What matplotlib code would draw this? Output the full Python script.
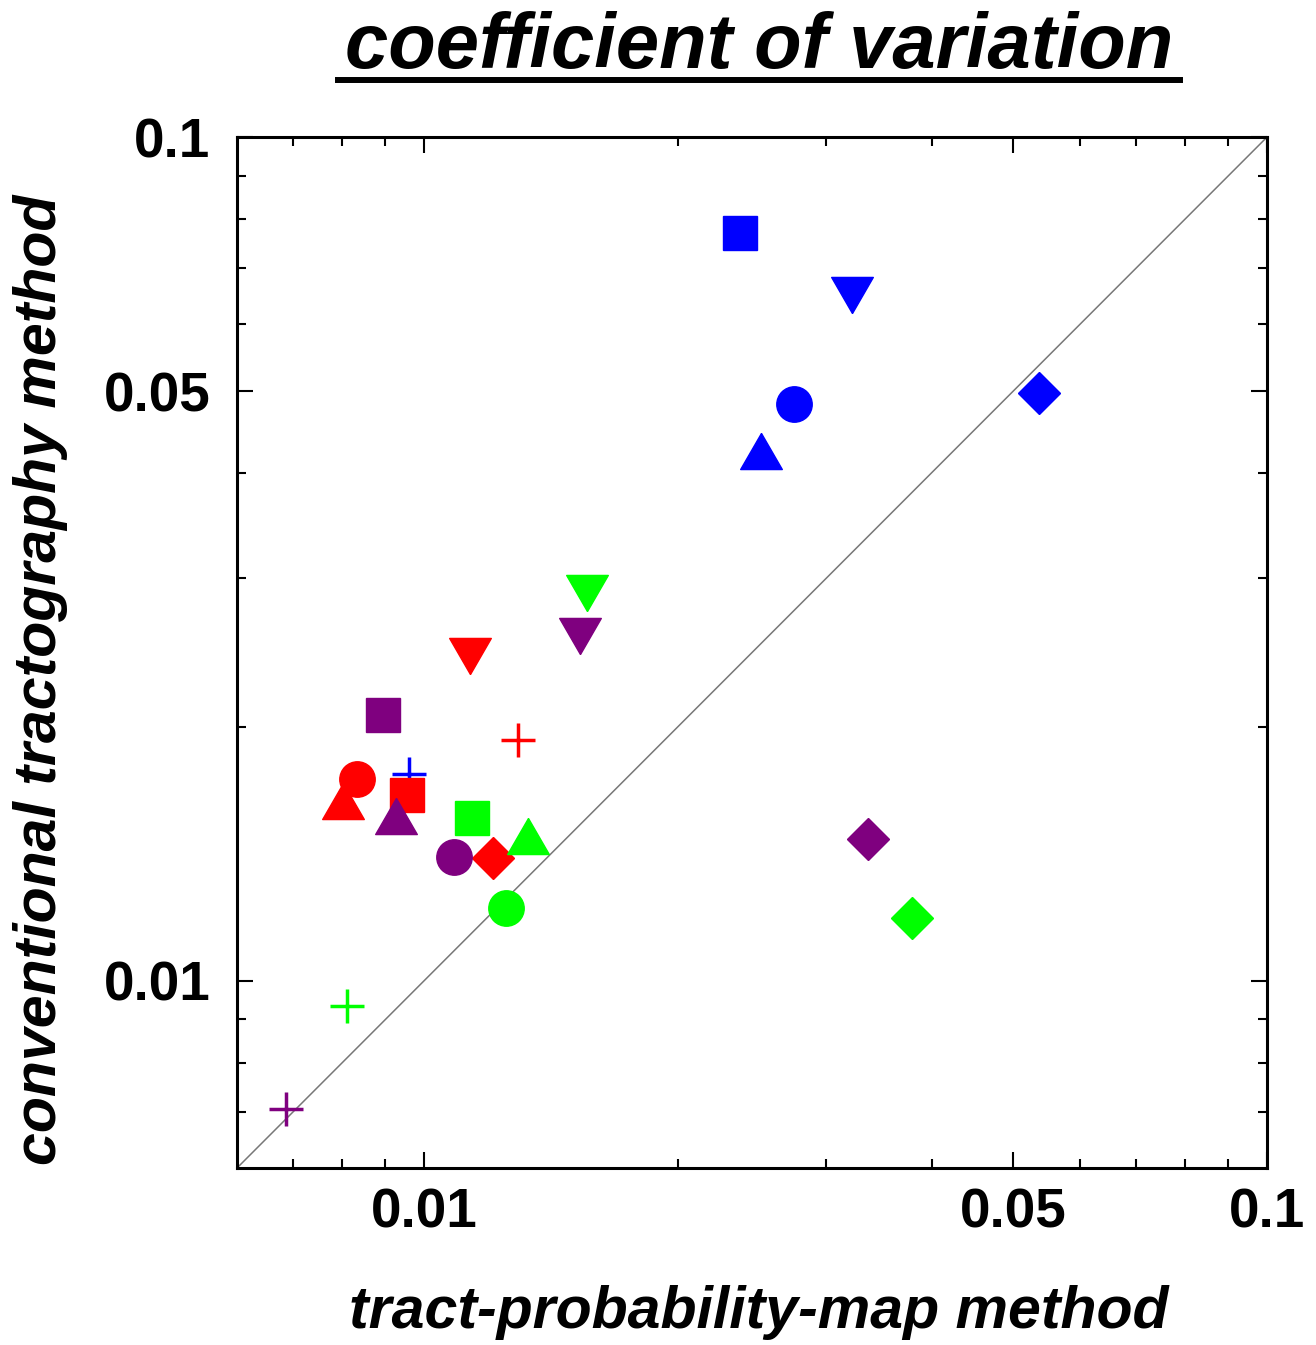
import matplotlib

matplotlib.use("Agg")
import matplotlib.pyplot as plt
from matplotlib.lines import Line2D
from matplotlib.ticker import FixedLocator, NullFormatter

plt.rcParams["font.family"] = ["Liberation Sans", "DejaVu Sans"]

# marker order used for every group
shapes = ["circle", "square", "up", "down", "diamond", "plus"]

blue_x = [0.0275, 0.0237, 0.0251, 0.0322, 0.0536, 0.0096]
blue_y = [0.0483, 0.0770, 0.0424, 0.0650, 0.0497, 0.0176]
red_x = [0.00833, 0.00954, 0.00801, 0.01134, 0.01207, 0.01293]
red_y = [0.01735, 0.01661, 0.01635, 0.02427, 0.01399, 0.01930]
purple_x = [0.01085, 0.00894, 0.00926, 0.01532, 0.03358, 0.00686]
purple_y = [0.01403, 0.02067, 0.01568, 0.02564, 0.01473, 0.00705]
green_x = [0.01251, 0.0114, 0.01329, 0.01562, 0.03787, 0.0081]
green_y = [0.0122, 0.0156, 0.01485, 0.02882, 0.01188, 0.00934]

major_ticks = [0.01, 0.05, 0.1]
major_labels = ["0.01", "0.05", "0.1"]
minor_ticks = [0.007, 0.008, 0.009, 0.02, 0.03, 0.04, 0.06, 0.07, 0.08, 0.09]
lims = [0.006, 0.1]

groups = [
    ("#0000ff", blue_x, blue_y),
    ("#ff0000", red_x, red_y),
    ("#7f007f", purple_x, purple_y),
    ("#00ff00", green_x, green_y),
]

tri_up = [(0, 0.5), (-0.577, -0.5), (0.577, -0.5), (0, 0.5)]
tri_down = [(0, -0.5), (-0.577, 0.5), (0.577, 0.5), (0, -0.5)]
marker_style = {
    "circle": dict(marker="o", ms=25.5),
    "square": dict(marker="s", ms=24),
    "up": dict(marker=tri_up, ms=30),
    "down": dict(marker=tri_down, ms=30),
    "diamond": dict(marker="D", ms=21.5),
    "plus": dict(marker="+", ms=24, mew=2.5),
}

fig = plt.figure(figsize=(13.16, 13.45), dpi=100)
ax = fig.add_axes([0.1801, 0.1316, 0.7827, 0.7665])
ax.set_xscale("log")
ax.set_yscale("log")
ax.set_xlim(lims)
ax.set_ylim(lims)

ax.plot(lims, lims, color="#777777", lw=1.1, zorder=1)

for color, xs, ys in groups:
    for shape, x, y in zip(shapes, xs, ys):
        st = dict(marker_style[shape])
        ax.plot([x], [y], linestyle="none", color=color, mec=color, zorder=3, **st)

for axis in (ax.xaxis, ax.yaxis):
    axis.set_major_locator(FixedLocator(major_ticks))
    axis.set_minor_locator(FixedLocator(minor_ticks))
    axis.set_minor_formatter(NullFormatter())
ax.set_xticklabels(major_labels)
ax.set_yticklabels(major_labels)
ax.tick_params(which="both", direction="in", top=True, right=True, width=1.5)
ax.tick_params(which="major", length=11.5)
ax.tick_params(which="minor", length=6.5)
ax.tick_params(axis="x", which="major", pad=14, labelsize=39.5)
ax.tick_params(axis="y", which="major", pad=19, labelsize=39.5)
for lab in ax.get_xticklabels() + ax.get_yticklabels():
    lab.set_fontweight("bold")
for sp in ax.spines.values():
    sp.set_linewidth(2.2)

fig.text(0.5768, 0.9494, "coefficient of variation", ha="center", va="baseline",
         fontsize=56, fontweight="bold", fontstyle="italic")
fig.add_artist(Line2D([0.2568, 0.8967], [0.9405, 0.9405], color="black", lw=4.3,
                      transform=fig.transFigure))
fig.text(0.5768, 0.0126, "tract-probability-map method", ha="center", va="baseline",
         fontsize=42.5, fontweight="bold", fontstyle="italic")
fig.text(0.0304, 0.4944, "conventional tractography method", ha="center", va="center",
         rotation=90, fontsize=42.5, fontweight="bold", fontstyle="italic")

fig.savefig("out.png", dpi=100)
